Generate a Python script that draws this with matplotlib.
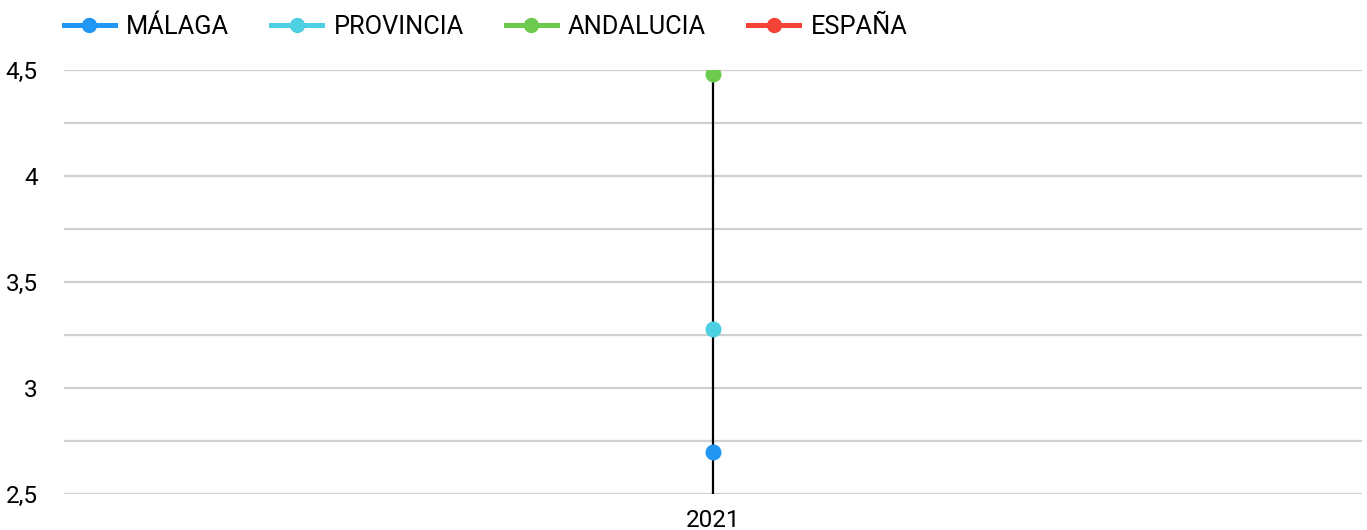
import matplotlib
matplotlib.use("Agg")
import matplotlib.pyplot as plt
from matplotlib.lines import Line2D
from matplotlib.ticker import FuncFormatter, MultipleLocator

plt.rcParams['font.family'] = ['Roboto', 'DejaVu Sans']

years = ["2021"]
series = ["MÁLAGA", "PROVINCIA", "ANDALUCIA", "ESPAÑA"]
values_malaga = [2.70]
values_provincia = [3.28]
values_andalucia = [4.48]
values_espana = [2.30]  # below the visible range
colors = ["#2196F3", "#4DD0E1", "#6CCB4E", "#F44336"]

all_values = [values_malaga, values_provincia, values_andalucia, values_espana]

W, H = 1367, 530
fig = plt.figure(figsize=(W/100, H/100), dpi=100)
ax = fig.add_axes([64/W, 1-494/H, (1362-64)/W, (494-70)/H])

x = list(range(len(years)))
for i in x:
    col = [v[i] for v in all_values]
    ax.plot([i, i], [min(col), max(col)], color="black", lw=1.6, zorder=2)

for name, vals, c in zip(series, all_values, colors):
    ax.plot(x, vals, linestyle="none", marker="o", markersize=10.5,
            color=c, zorder=3, clip_on=True)

ax.set_xlim(-1, 1)
ax.set_ylim(2.5, 4.5)
ax.yaxis.set_major_locator(MultipleLocator(0.5))
ax.yaxis.set_minor_locator(MultipleLocator(0.25))
ax.yaxis.set_major_formatter(FuncFormatter(lambda v, p: f"{v:g}".replace(".", ",")))
ax.set_xticks(x)
ax.set_xticklabels(years)
ax.grid(True, which="both", axis="y", color="#d0d0d0", lw=1.6)
ax.set_axisbelow(True)
for s in ax.spines.values():
    s.set_visible(False)
ax.tick_params(axis="both", which="both", length=0, labelsize=17.5, colors="black")
ax.tick_params(axis="y", pad=19)
ax.tick_params(axis="x", pad=11)

handles = [Line2D([0], [0], color=c, lw=3.6, marker="o", markersize=10) for c in colors]
fig.legend(handles, series, loc="center left", bbox_to_anchor=(64/W, 1-27/H),
           ncol=4, frameon=False, fontsize=18.3, handlelength=2.0,
           columnspacing=1.65, handletextpad=0.45, borderpad=0, borderaxespad=0)

fig.savefig("out.png", dpi=100)
